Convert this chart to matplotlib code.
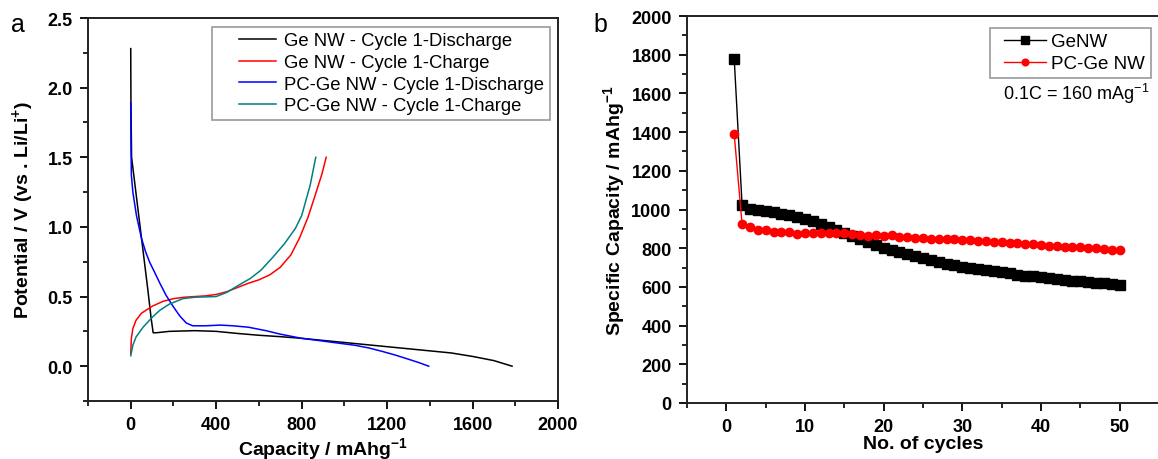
import numpy as np
import matplotlib
matplotlib.use("Agg")
import matplotlib.pyplot as plt
from matplotlib.ticker import MultipleLocator, AutoMinorLocator
from matplotlib.lines import Line2D
from matplotlib.legend_handler import HandlerLine2D

plt.rcParams['font.family'] = ['Liberation Sans', 'DejaVu Sans']
plt.rcParams['mathtext.default'] = 'regular'

# (a) first cycle voltage profiles: capacity (mAh/g) vs potential (V)
ge_dis_cap = [0, 1, 4, 20, 40, 60, 80, 95, 105, 120, 180, 300, 400, 500, 600, 700, 800,
              900, 1000, 1100, 1200, 1300, 1400, 1500, 1600, 1700, 1785]
ge_dis_v = [2.28, 1.9, 1.5, 1.3, 1.05, 0.8, 0.55, 0.35, 0.24, 0.24, 0.25, 0.255, 0.25, 0.235,
            0.222, 0.212, 0.2, 0.185, 0.17, 0.155, 0.14, 0.125, 0.11, 0.095, 0.07, 0.04, 0.0]

ge_chg_cap = [0, 3, 10, 25, 50, 100, 150, 200, 250, 300, 350, 400, 450, 500, 550, 600, 650,
              700, 750, 790, 830, 866, 895, 915]
ge_chg_v = [0.09, 0.2, 0.27, 0.33, 0.38, 0.43, 0.465, 0.485, 0.495, 0.5, 0.505, 0.515, 0.535,
            0.565, 0.595, 0.62, 0.655, 0.71, 0.8, 0.92, 1.07, 1.24, 1.38, 1.5]

pc_dis_cap = [0, 1, 3, 10, 27, 50, 70, 89, 110, 135, 165, 198, 230, 260, 290, 350, 420, 478,
              550, 633, 700, 800, 866, 950, 1050, 1117, 1180, 1238, 1300, 1350, 1395]
pc_dis_v = [1.89, 1.6, 1.37, 1.25, 1.08, 0.92, 0.82, 0.745, 0.68, 0.6, 0.51, 0.43, 0.36, 0.31,
            0.29, 0.29, 0.295, 0.29, 0.28, 0.255, 0.23, 0.2, 0.187, 0.17, 0.15, 0.13, 0.105,
            0.08, 0.05, 0.025, 0.0]

pc_chg_cap = [0, 10, 25, 58, 100, 135, 180, 244, 300, 400, 450, 509, 560, 610, 664, 720, 771,
              800, 840, 866]
pc_chg_v = [0.075, 0.15, 0.21, 0.28, 0.35, 0.4, 0.445, 0.485, 0.495, 0.5, 0.53, 0.585, 0.63,
            0.69, 0.78, 0.88, 0.99, 1.08, 1.3, 1.5]

# (b) cycling performance
cycles = np.arange(1, 51)
genw_cap = [1780, 1025, 1005, 995, 990, 985, 978, 970, 960, 950, 940, 925, 910, 895, 880, 862,
            848, 832, 815, 800, 790, 778, 768, 758, 748, 740, 730, 720, 712, 705, 700, 693, 686,
            680, 675, 670, 664, 658, 654, 650, 646, 642, 637, 633, 630, 626, 622, 618, 614, 608]
pcgenw_cap = [1390, 925, 910, 893, 895, 885, 885, 883, 875, 878, 878, 880, 878, 880, 878, 872,
              870, 865, 870, 862, 868, 858, 858, 855, 852, 850, 850, 848, 847, 843, 840, 838,
              835, 830, 830, 828, 825, 822, 820, 815, 812, 812, 808, 805, 805, 800, 800, 796,
              793, 790]

W, H = 1158, 460
fig = plt.figure(figsize=(W / 100, H / 100), dpi=100)


def px_axes(left, top, right, bottom):
    return fig.add_axes([left / W, (H - bottom) / H, (right - left) / W, (bottom - top) / H])


def style(ax):
    for s in ax.spines.values():
        s.set_linewidth(1.4)
        s.set_color('#222222')
    ax.tick_params(which='major', direction='out', length=6, width=1.3, pad=5,
                   labelsize=13, top=False, right=False)
    ax.tick_params(which='minor', direction='out', length=3.5, width=1.2, top=False, right=False)
    for lab in ax.get_xticklabels() + ax.get_yticklabels():
        lab.set_fontweight('bold')
    ax.xaxis.set_minor_locator(AutoMinorLocator(2))
    ax.yaxis.set_minor_locator(AutoMinorLocator(2))


# ---------- panel a ----------
ax1 = px_axes(88, 19, 558, 402)
ax1.plot(ge_dis_cap, ge_dis_v, color='black', lw=1.1, label='Ge NW - Cycle 1-Discharge')
ax1.plot(ge_chg_cap, ge_chg_v, color='#ff0000', lw=1.1, label='Ge NW - Cycle 1-Charge')
ax1.plot(pc_dis_cap, pc_dis_v, color='#0000ff', lw=1.1, label='PC-Ge NW - Cycle 1-Discharge')
ax1.plot(pc_chg_cap, pc_chg_v, color='#008080', lw=1.1, label='PC-Ge NW - Cycle 1-Charge')
ax1.set_xlim(-200, 2000)
ax1.set_ylim(-0.25, 2.5)
ax1.xaxis.set_major_locator(MultipleLocator(400))
ax1.yaxis.set_major_locator(MultipleLocator(0.5))
ax1.yaxis.set_major_formatter(plt.FormatStrFormatter('%.1f'))
style(ax1)
ax1.set_xlabel('Capacity / mAhg$^{-1}$', fontsize=14, fontweight='bold')
ax1.set_ylabel('Potential / V (vs . Li/Li$^{+}$)', fontsize=14, fontweight='bold')
ax1.xaxis.set_label_coords(0.5, -0.088)
ax1.yaxis.set_label_coords(-0.11, 0.5)
leg1 = ax1.legend(loc='upper right', bbox_to_anchor=(0.983, 0.977), borderaxespad=0,
                  fontsize=13.3, frameon=True, fancybox=False, handlelength=3.2,
                  labelspacing=0.25, borderpad=0.3, handletextpad=0.45,
                  handler_map={Line2D: HandlerLine2D(xpad=1.2)})
leg1.get_frame().set_edgecolor('#808080')
leg1.get_frame().set_linewidth(1.2)
fig.text(18 / W, 1 - 25 / H, 'a', fontsize=18, ha='center', va='center')

# ---------- panel b ----------
ax2 = px_axes(687, 17, 1159, 404)
ax2.plot(cycles, genw_cap, color='black', lw=1.0, marker='s', ms=6.5, label='GeNW')
ax2.plot(cycles, pcgenw_cap, color='#ff0000', lw=1.0, marker='o', ms=6, label='PC-Ge NW')
ax2.set_xlim(-5, 55)
ax2.set_ylim(0, 2000)
ax2.xaxis.set_major_locator(MultipleLocator(10))
ax2.yaxis.set_major_locator(MultipleLocator(200))
style(ax2)
ax2.set_xlabel('No. of cycles', fontsize=14, fontweight='bold')
ax2.set_ylabel('Specific Capacity / mAhg$^{-1}$', fontsize=14, fontweight='bold')
ax2.xaxis.set_label_coords(0.5, -0.083)
ax2.yaxis.set_label_coords(-0.127, 0.5)
leg2 = ax2.legend(loc='upper right', bbox_to_anchor=(0.983, 0.97), borderaxespad=0,
                  fontsize=13.5, frameon=True, fancybox=False, handlelength=2.7,
                  labelspacing=0.25, borderpad=0.3, handletextpad=0.3, markerscale=0.8,
                  handler_map={Line2D: HandlerLine2D(xpad=0.45)})
leg2.get_frame().set_edgecolor('#808080')
leg2.get_frame().set_linewidth(1.2)
ax2.text(0.98, 0.80, '0.1C = 160 mAg$^{-1}$', transform=ax2.transAxes, fontsize=13,
         ha='right', va='center')
fig.text(600 / W, 1 - 25 / H, 'b', fontsize=18, ha='center', va='center')

fig.savefig('out.png', dpi=100)
